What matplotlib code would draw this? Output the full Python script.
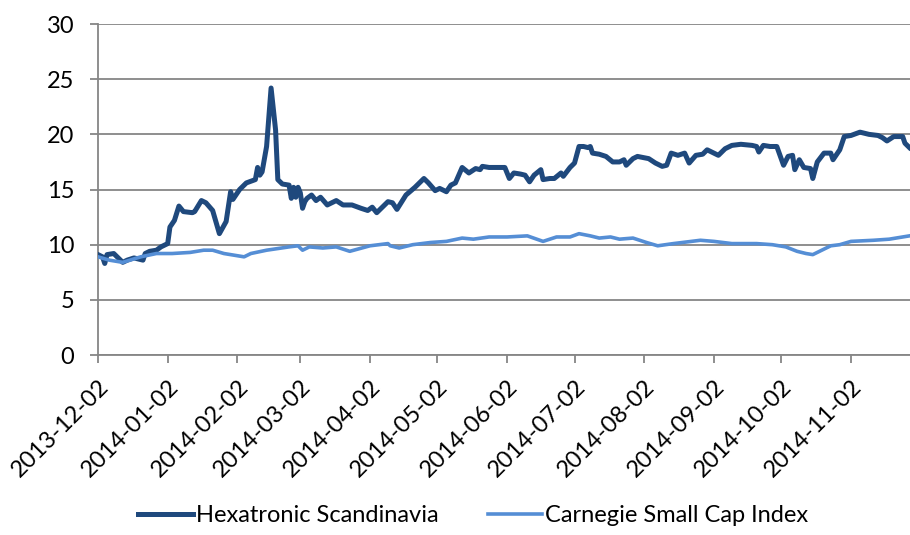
import datetime as dt
import matplotlib
matplotlib.use("Agg")
import matplotlib.pyplot as plt
import matplotlib.dates as mdates

# Hexatronic Scandinavia
hex_dates = [
    "2013-12-02", "2013-12-04", "2013-12-05", "2013-12-06", "2013-12-09", "2013-12-11",
    "2013-12-13", "2013-12-15", "2013-12-18", "2013-12-22", "2013-12-23", "2013-12-25",
    "2013-12-28", "2013-12-30", "2014-01-02", "2014-01-03", "2014-01-05", "2014-01-07",
    "2014-01-09", "2014-01-13", "2014-01-14", "2014-01-17", "2014-01-19", "2014-01-22",
    "2014-01-25", "2014-01-28", "2014-01-30", "2014-01-31", "2014-02-03", "2014-02-06",
    "2014-02-10", "2014-02-11", "2014-02-12", "2014-02-13", "2014-02-15", "2014-02-17",
    "2014-02-19", "2014-02-20", "2014-02-22", "2014-02-25", "2014-02-26", "2014-02-27",
    "2014-02-28", "2014-03-01", "2014-03-02", "2014-03-03", "2014-03-04", "2014-03-05",
    "2014-03-07", "2014-03-09", "2014-03-11", "2014-03-14", "2014-03-18", "2014-03-21",
    "2014-03-25", "2014-03-29", "2014-04-01", "2014-04-03", "2014-04-05", "2014-04-07",
    "2014-04-10", "2014-04-12", "2014-04-14", "2014-04-18", "2014-04-22", "2014-04-26",
    "2014-04-28", "2014-05-01", "2014-05-03", "2014-05-06", "2014-05-08", "2014-05-10",
    "2014-05-13", "2014-05-16", "2014-05-19", "2014-05-21", "2014-05-22", "2014-05-25",
    "2014-05-29", "2014-06-01", "2014-06-03", "2014-06-05", "2014-06-08", "2014-06-10",
    "2014-06-12", "2014-06-14", "2014-06-17", "2014-06-18", "2014-06-21", "2014-06-23",
    "2014-06-26", "2014-06-27", "2014-06-30", "2014-07-02", "2014-07-04", "2014-07-06",
    "2014-07-08", "2014-07-09", "2014-07-10", "2014-07-13", "2014-07-16", "2014-07-19",
    "2014-07-22", "2014-07-24", "2014-07-25", "2014-07-28", "2014-07-30", "2014-08-04",
    "2014-08-07", "2014-08-10", "2014-08-12", "2014-08-14", "2014-08-17", "2014-08-20",
    "2014-08-22", "2014-08-25", "2014-08-28", "2014-08-30", "2014-09-02", "2014-09-04",
    "2014-09-07", "2014-09-10", "2014-09-14", "2014-09-19", "2014-09-21", "2014-09-22",
    "2014-09-24", "2014-09-27", "2014-09-30", "2014-10-03", "2014-10-05", "2014-10-07",
    "2014-10-08", "2014-10-10", "2014-10-12", "2014-10-15", "2014-10-16", "2014-10-18",
    "2014-10-21", "2014-10-24", "2014-10-25", "2014-10-28", "2014-10-30", "2014-11-02",
    "2014-11-06", "2014-11-10", "2014-11-14", "2014-11-16", "2014-11-18", "2014-11-21",
    "2014-11-25", "2014-11-26", "2014-11-28",
]
hex_vals = [
    9.1, 8.9, 8.3, 9.1, 9.2, 8.8,
    8.4, 8.6, 8.8, 8.6, 9.2, 9.4,
    9.5, 9.8, 10.1, 11.6, 12.2, 13.5,
    13.0, 12.9, 13.0, 14.0, 13.8, 13.1,
    11.0, 12.1, 14.8, 14.1, 15.0, 15.6,
    15.9, 17.0, 16.3, 16.6, 18.9, 24.2,
    20.4, 15.9, 15.5, 15.4, 14.2, 15.2,
    14.3, 15.2, 14.7, 13.3, 13.9, 14.2,
    14.5, 14.0, 14.3, 13.6, 14.0, 13.6,
    13.6, 13.3, 13.1, 13.4, 12.9, 13.3,
    13.9, 13.8, 13.2, 14.5, 15.2, 16.0,
    15.6, 14.9, 15.1, 14.8, 15.4, 15.6,
    17.0, 16.5, 16.9, 16.8, 17.1, 17.0,
    17.0, 17.0, 16.0, 16.5, 16.4, 16.3,
    15.7, 16.3, 16.8, 15.9, 16.0, 16.0,
    16.5, 16.2, 17.0, 17.4, 18.9, 18.9,
    18.8, 18.9, 18.3, 18.2, 18.0, 17.5,
    17.5, 17.7, 17.2, 17.8, 18.0, 17.8,
    17.4, 17.1, 17.2, 18.3, 18.1, 18.3,
    17.4, 18.1, 18.2, 18.6, 18.3, 18.1,
    18.7, 19.0, 19.1, 19.0, 18.9, 18.4,
    19.0, 18.9, 18.9, 17.2, 18.0, 18.1,
    16.8, 17.7, 17.0, 16.9, 16.0, 17.5,
    18.3, 18.3, 17.7, 18.6, 19.8, 19.9,
    20.2, 20.0, 19.9, 19.7, 19.4, 19.8,
    19.8, 19.2, 18.8,
]

# Carnegie Small Cap Index
csc_dates = [
    "2013-12-02", "2013-12-07", "2013-12-13", "2013-12-21", "2013-12-28", "2014-01-04",
    "2014-01-12", "2014-01-18", "2014-01-22", "2014-01-27", "2014-02-05", "2014-02-08",
    "2014-02-15", "2014-02-25", "2014-03-01", "2014-03-03", "2014-03-06", "2014-03-12",
    "2014-03-18", "2014-03-24", "2014-04-02", "2014-04-10", "2014-04-11", "2014-04-15",
    "2014-04-21", "2014-04-29", "2014-05-06", "2014-05-13", "2014-05-18", "2014-05-25",
    "2014-06-02", "2014-06-11", "2014-06-18", "2014-06-24", "2014-06-30", "2014-07-04",
    "2014-07-09", "2014-07-13", "2014-07-18", "2014-07-22", "2014-07-28", "2014-08-03",
    "2014-08-08", "2014-08-15", "2014-08-27", "2014-09-02", "2014-09-10", "2014-09-21",
    "2014-09-28", "2014-10-04", "2014-10-09", "2014-10-13", "2014-10-16", "2014-10-19",
    "2014-10-24", "2014-10-28", "2014-11-02", "2014-11-12", "2014-11-19", "2014-11-25",
    "2014-11-28",
]
csc_vals = [
    8.9, 8.6, 8.4, 8.9, 9.2, 9.2,
    9.3, 9.5, 9.5, 9.2, 8.9, 9.2,
    9.5, 9.8, 9.9, 9.5, 9.8, 9.7,
    9.8, 9.4, 9.9, 10.1, 9.9, 9.7,
    10.0, 10.2, 10.3, 10.6, 10.5, 10.7,
    10.7, 10.8, 10.3, 10.7, 10.7, 11.0,
    10.8, 10.6, 10.7, 10.5, 10.6, 10.2,
    9.9, 10.1, 10.4, 10.3, 10.1, 10.1,
    10.0, 9.8, 9.4, 9.2, 9.1, 9.4,
    9.9, 10.0, 10.3, 10.4, 10.5, 10.7,
    10.8,
]

tick_dates = ["2013-12-02", "2014-01-02", "2014-02-02", "2014-03-02", "2014-04-02",
              "2014-05-02", "2014-06-02", "2014-07-02", "2014-08-02", "2014-09-02",
              "2014-10-02", "2014-11-02"]
y_ticks = [0, 5, 10, 15, 20, 25, 30]

to_dt = lambda s: dt.datetime.strptime(s, "%Y-%m-%d")

plt.rcParams['font.family'] = ['Lato', 'DejaVu Sans']
grey = "#868686"
fs = 17

fig = plt.figure(figsize=(9.1, 5.35), dpi=100)
ax = fig.add_axes([0.1077, 0.3364, 0.8923, 0.6187])

ax.plot([to_dt(d) for d in hex_dates], hex_vals, color="#1F497D", lw=3.6,
        solid_joinstyle="round", label="Hexatronic Scandinavia", zorder=3)
ax.plot([to_dt(d) for d in csc_dates], csc_vals, color="#558ED5", lw=2.6,
        solid_joinstyle="round", label="Carnegie Small Cap Index", zorder=3)

ax.set_ylim(0, 30)
ax.set_yticks(y_ticks)
ax.set_xlim(to_dt("2013-12-02"), to_dt("2014-11-28") + dt.timedelta(hours=6))
ax.set_xticks([to_dt(d) for d in tick_dates])
ax.xaxis.set_major_formatter(mdates.DateFormatter("%Y-%m-%d"))
ax.yaxis.grid(True, color=grey, lw=1.3)
ax.set_axisbelow(True)

for s in ["top", "right"]:
    ax.spines[s].set_visible(False)
for s in ["left", "bottom"]:
    ax.spines[s].set_color(grey)
    ax.spines[s].set_linewidth(1.3)
ax.tick_params(axis="both", colors=grey, width=1.3, length=6, labelsize=fs,
               labelcolor="black")
ax.tick_params(axis="y", pad=11)
ax.tick_params(axis="x", pad=9)
for lbl in ax.get_xticklabels():
    lbl.set_rotation(45)
    lbl.set_ha("right")
    lbl.set_rotation_mode("anchor")

# legend along the bottom edge, kept fully inside the figure
fig.legend(loc="center", bbox_to_anchor=(0.52, 0.036), ncol=2, frameon=False,
           fontsize=fs, handlelength=2.3, handletextpad=0.12, columnspacing=2.1)

fig.savefig("out.png", dpi=100)
